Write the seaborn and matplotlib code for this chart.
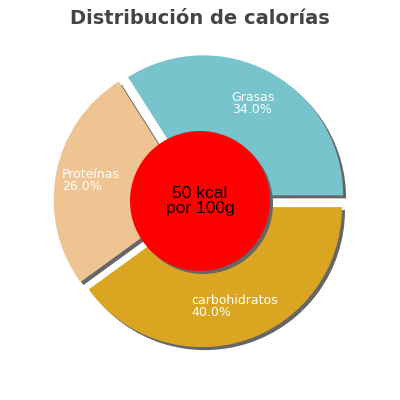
import numpy as np
import matplotlib
matplotlib.use("Agg")
import matplotlib.pyplot as plt
from matplotlib.patches import Wedge, Circle
import seaborn as sns

# datos
categorias = ["Grasas", "Proteínas", "carbohidratos"]
porcentajes = [34.0, 26.0, 40.0]
colores = ["#78C4CC", "#EEC592", "#DAA520"]
titulo = "Distribución de calorías"
texto_centro = "50 kcal\npor 100g"

sns.set_theme(style="white")
plt.rcParams['font.family'] = ['Liberation Sans', 'DejaVu Sans']

fig = plt.figure(figsize=(4, 4), dpi=100)
ax = fig.add_axes([0, 0, 1, 1])

wedges, _ = ax.pie(porcentajes, colors=colores, startangle=0, counterclock=True,
                   explode=[0.046] * len(porcentajes), radius=1,
                   wedgeprops={'linewidth': 0})

# sombras
desp = 3 / 140
for w in wedges:
    sombra = Wedge((w.center[0] + desp, w.center[1] - desp), w.r, w.theta1, w.theta2,
                   facecolor='#666666', edgecolor='none', zorder=w.get_zorder() - 0.5)
    ax.add_patch(sombra)

# etiquetas
for w, cat, pct in zip(wedges, categorias, porcentajes):
    ang = np.deg2rad((w.theta1 + w.theta2) / 2)
    x = w.center[0] + 0.745 * np.cos(ang)
    y = w.center[1] + 0.745 * np.sin(ang)
    ax.text(x, y, f"{cat}\n{pct:.1f}%", ha='center', va='center', multialignment='left',
            color='white', fontsize=9, family='DejaVu Sans', linespacing=0.9, zorder=5)

# circulo central
ax.add_patch(Circle((desp, -desp), 0.5, facecolor='#666666', edgecolor='none', zorder=3))
ax.add_patch(Circle((0, 0), 0.5, facecolor='#FF0000', edgecolor='none', zorder=4))
ax.text(0, 0, texto_centro, ha='center', va='center', fontsize=12.5, color='black',
        linespacing=1.0, zorder=5)

ax.set_xlim(-200 / 140, 200 / 140)
ax.set_ylim(-199 / 140, 201 / 140)
ax.axis('off')

fig.text(0.5, 1 - 23.5 / 400, titulo, ha='center', va='baseline', fontsize=14,
         fontweight='bold', family='DejaVu Sans', color='#444444')

fig.savefig("out.png", dpi=100)
